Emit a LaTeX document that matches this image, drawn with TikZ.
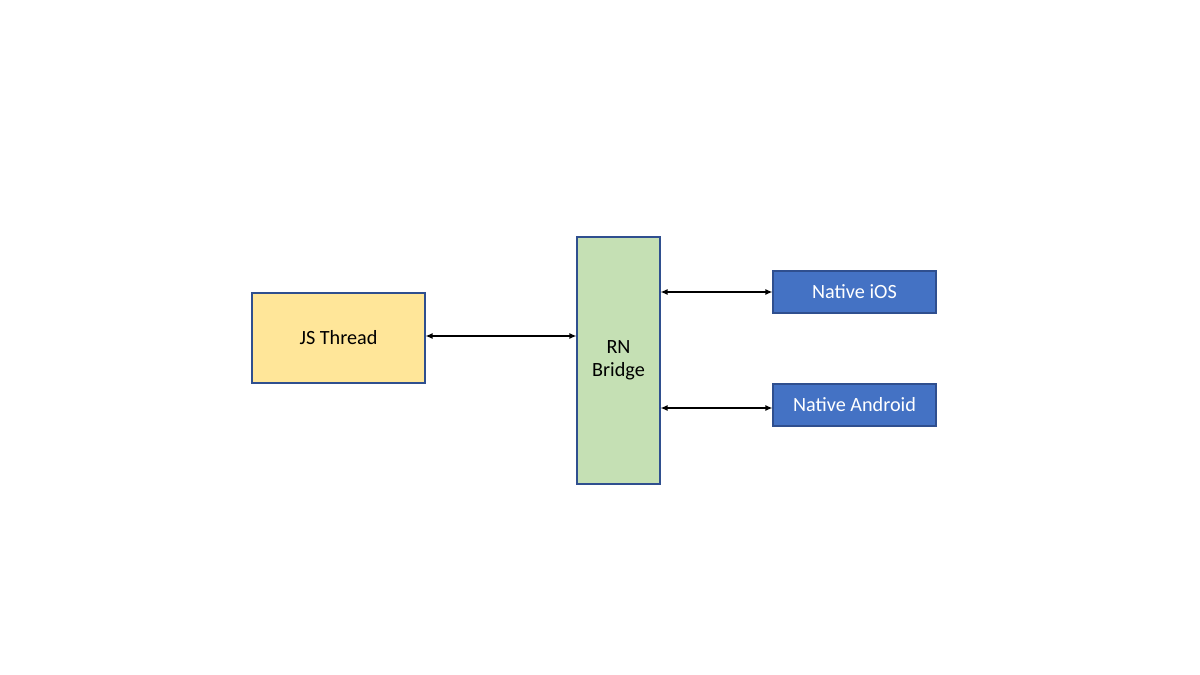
\documentclass[tikz,border=0pt]{standalone}
\usepackage{fontspec}
\setmainfont{Carlito}
\usetikzlibrary{arrows.meta}
\definecolor{jsfill}{HTML}{FFE699}
\definecolor{brfill}{HTML}{C5E0B4}
\definecolor{nfill}{HTML}{4472C4}
\definecolor{bord}{HTML}{2F4F8F}
\begin{document}
\begin{tikzpicture}[x=0.02cm,y=-0.02cm,
  box/.style={draw=bord,line width=0.6pt,inner sep=0pt,font=\fontsize{11.5}{13}\selectfont},
  link/.style={{Latex[length=4pt,width=3.5pt]}-{Latex[length=4pt,width=3.5pt]},line width=0.9pt}]
\useasboundingbox (0,0) rectangle (1200,675);
\node[box,fill=jsfill,minimum width=173*0.02cm,minimum height=90*0.02cm] (js) at (338.5,338) {JS Thread};
\node[box,fill=brfill,minimum width=83*0.02cm,minimum height=247*0.02cm,align=center] (br) at (618.5,360.5) {RN\\Bridge};
\node[box,fill=nfill,text=white,minimum width=163*0.02cm,minimum height=42*0.02cm] (ios) at (854.5,292) {Native iOS};
\node[box,fill=nfill,text=white,minimum width=163*0.02cm,minimum height=42*0.02cm] (and) at (854.5,405) {Native Android};
\draw[link] (js.east|-0,336) -- (br.west|-0,336);
\draw[link] (br.east|-0,292) -- (ios.west|-0,292);
\draw[link] (br.east|-0,408) -- (and.west|-0,408);
\end{tikzpicture}
\end{document}
